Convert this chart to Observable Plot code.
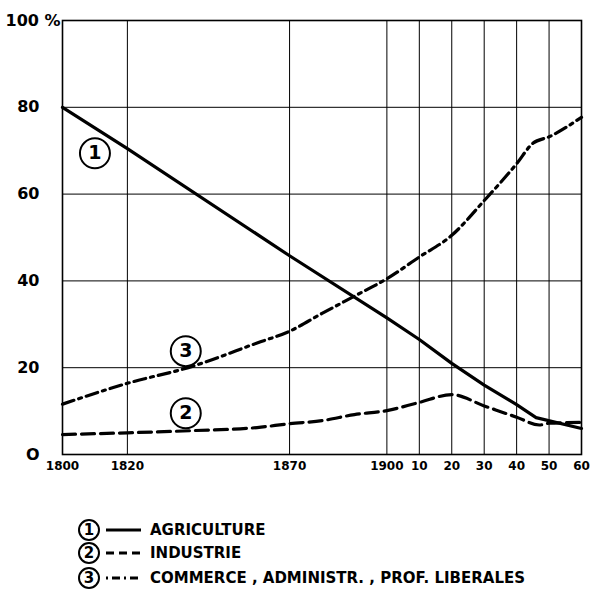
<!DOCTYPE html>
<html>
<head>
<meta charset="utf-8">
<script src="https://cdn.jsdelivr.net/npm/d3@7"></script>
<script src="https://cdn.jsdelivr.net/npm/@observablehq/plot@0.6"></script>
<style>
  html, body { margin: 0; padding: 0; background: #fff; }
  #chart { width: 594px; height: 598px; position: relative; font-family: "DejaVu Sans", sans-serif; }
</style>
</head>
<body>
<div id="chart"></div>
<script>
// ---- data ----
const agriYears = [1800, 1820, 1870, 1900, 1910, 1920, 1930, 1940, 1946, 1960];
const agriVals  = [80, 70.5, 45.8, 31.5, 26.5, 21, 16, 11.5, 8.5, 6];

const induYears = [1800, 1820, 1840, 1860, 1870, 1880, 1890, 1900, 1910, 1920, 1930, 1940, 1947, 1950, 1960];
const induVals  = [4.6, 5, 5.5, 6.2, 7.1, 7.8, 9.2, 10.1, 12, 13.8, 11.2, 8.6, 6.8, 7.2, 7.4];

const commYears = [1800, 1820, 1840, 1860, 1870, 1880, 1890, 1900, 1910, 1920, 1930, 1940, 1945, 1950, 1960];
const commVals  = [11.6, 16.4, 20.3, 25.7, 28.4, 32.5, 36.5, 40.5, 45.5, 50.5, 58.5, 67, 71.7, 73.2, 77.7];

const xTicks = [1800, 1820, 1870, 1900, 1910, 1920, 1930, 1940, 1950, 1960];
const xTickLabels = ["1800", "1820", "1870", "1900", "10", "20", "30", "40", "50", "60"];
const yTicks = [0, 20, 40, 60, 80];
const yTopLabel = "100 %";

const seriesNames = ["AGRICULTURE", "INDUSTRIE", "COMMERCE , ADMINISTR. , PROF. LIBERALES"];
const seriesNums = ["1", "2", "3"];
// annotation circles per series 1, 2, 3 (year, value)
const annYears = [1810, 1838, 1838];
const annVals  = [69.4, 9.5, 23.8];

// ---- build tables ----
const agri = agriYears.map((x, i) => ({x, y: agriVals[i]}));
const indu = induYears.map((x, i) => ({x, y: induVals[i]}));
const comm = commYears.map((x, i) => ({x, y: commVals[i]}));
const ann = annYears.map((x, i) => ({x, y: annVals[i], t: seriesNums[i]}));

const dashes = [null, "13,6", "12,5,3,5"];

const plot = Plot.plot({
  width: 594,
  height: 485,
  marginLeft: 62,
  marginRight: 13,
  marginTop: 20,
  marginBottom: 31,
  style: {fontFamily: "DejaVu Sans, sans-serif", background: "white", color: "black"},
  x: {domain: [1800, 1960]},
  y: {domain: [0, 100]},
  marks: [
    Plot.gridX(xTicks, {stroke: "black", strokeOpacity: 1, strokeWidth: 1}),
    Plot.gridY([20, 40, 60, 80], {stroke: "black", strokeOpacity: 1, strokeWidth: 1}),
    Plot.frame({stroke: "black", strokeWidth: 1.6}),
    Plot.axisX({ticks: xTicks, tickSize: 0, tickPadding: 7,
      tickFormat: d => xTickLabels[xTicks.indexOf(d)],
      fontSize: 12, fontWeight: "bold", label: null, style: {fontStretch: "condensed"}}),
    Plot.axisY({ticks: yTicks, tickSize: 0, tickPadding: 23,
      tickFormat: d => d === 0 ? "O" : String(d),
      fontSize: 16, fontWeight: "bold", label: null}),
    Plot.text([{x: 1800, y: 100}], {x: "x", y: "y", text: () => yTopLabel,
      textAnchor: "end", dx: -2, dy: 0, fontSize: 16, fontWeight: "bold"}),
    Plot.line(agri, {x: "x", y: "y", stroke: "black", strokeWidth: 3.2, strokeLinejoin: "round"}),
    Plot.line(indu, {x: "x", y: "y", stroke: "black", strokeWidth: 3.2, strokeDasharray: dashes[1], curve: "monotone-x"}),
    Plot.line(comm, {x: "x", y: "y", stroke: "black", strokeWidth: 3.2, strokeDasharray: dashes[2], curve: "monotone-x"}),
    Plot.dot(ann, {x: "x", y: "y", r: 15, fill: "white", stroke: "black", strokeWidth: 2}),
    Plot.text(ann, {x: "x", y: "y", text: "t", fontSize: 19, fontWeight: "bold"})
  ]
});

const chart = document.getElementById("chart");
chart.appendChild(plot);

// ---- legend ----
const ns = "http://www.w3.org/2000/svg";
const leg = document.createElementNS(ns, "svg");
leg.setAttribute("width", 594);
leg.setAttribute("height", 113);
leg.style.position = "absolute";
leg.style.left = "0px";
leg.style.top = "485px";
const rowY = [45, 68, 93];
seriesNames.forEach((name, i) => {
  const cy = rowY[i];
  const c = document.createElementNS(ns, "circle");
  c.setAttribute("cx", 89); c.setAttribute("cy", cy); c.setAttribute("r", 10);
  c.setAttribute("fill", "white"); c.setAttribute("stroke", "black"); c.setAttribute("stroke-width", 2);
  leg.appendChild(c);
  const n = document.createElementNS(ns, "text");
  n.setAttribute("x", 89); n.setAttribute("y", cy); n.setAttribute("dy", "0.36em");
  n.setAttribute("text-anchor", "middle"); n.setAttribute("font-size", 15); n.setAttribute("font-weight", "bold");
  n.setAttribute("font-family", "DejaVu Sans, sans-serif");
  n.textContent = seriesNums[i];
  leg.appendChild(n);
  const l = document.createElementNS(ns, "line");
  l.setAttribute("x1", 106); l.setAttribute("x2", 141); l.setAttribute("y1", cy); l.setAttribute("y2", cy);
  l.setAttribute("stroke", "black"); l.setAttribute("stroke-width", 3);
  if (i === 1) l.setAttribute("stroke-dasharray", "8,5");
  if (i === 2) l.setAttribute("stroke-dasharray", "2,4,8,4");
  leg.appendChild(l);
  const t = document.createElementNS(ns, "text");
  t.setAttribute("x", 150); t.setAttribute("y", cy); t.setAttribute("dy", "0.36em");
  t.setAttribute("font-size", 15); t.setAttribute("font-weight", "bold");
  t.setAttribute("font-family", "DejaVu Sans, sans-serif");
  t.textContent = name;
  leg.appendChild(t);
});
chart.appendChild(leg);
</script>
</body>
</html>
